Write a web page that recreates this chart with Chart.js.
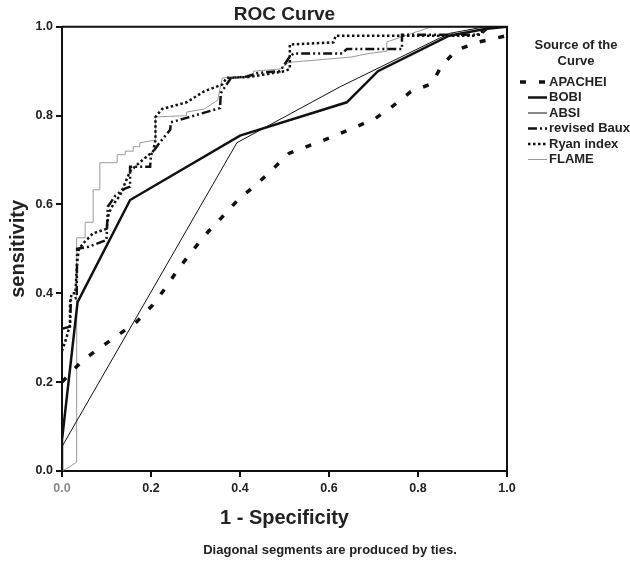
<!DOCTYPE html>
<html>
<head>
<meta charset="utf-8">
<title>ROC Curve</title>
<script src="https://cdn.jsdelivr.net/npm/chart.js@4/dist/chart.umd.min.js"></script>
<style>
  html, body { margin: 0; padding: 0; background: #fff; }
  #wrap { width: 630px; height: 563px; }
</style>
</head>
<body>
<div id="wrap"><canvas id="roc" width="630" height="563"></canvas></div>
<script>
// Curve names, in legend order
const seriesNames = ['APACHEI', 'BOBI', 'ABSI', 'revised Baux', 'Ryan index', 'FLAME'];

// Tick values for both axes
const tickValues = [0, 0.2, 0.4, 0.6, 0.8, 1.0];

// ROC points: [1 - specificity, sensitivity]
const apacheI = [[0, 0.2], [0.045, 0.248], [0.085, 0.277], [0.126, 0.306], [0.168, 0.336], [0.204, 0.374],
  [0.234, 0.414], [0.263, 0.457], [0.294, 0.497], [0.328, 0.538], [0.362, 0.574], [0.398, 0.613],
  [0.436, 0.644], [0.474, 0.68], [0.51, 0.715], [0.56, 0.734], [0.607, 0.752], [0.654, 0.772],
  [0.703, 0.793], [0.744, 0.822], [0.784, 0.854], [0.831, 0.872], [0.854, 0.914], [0.888, 0.948],
  [0.937, 0.966], [1.0, 0.98]];

const bobi = [[0, 0], [0, 0.07], [0.035, 0.38], [0.153, 0.61], [0.4, 0.755], [0.64, 0.83],
  [0.71, 0.9], [0.87, 0.98], [0.95, 0.995], [1, 1]];

const absi = [[0, 0.055], [0.393, 0.739], [0.625, 0.865], [0.87, 0.985], [0.95, 1.0], [1, 1]];

const revisedBaux = [[0, 0.32], [0.018, 0.325], [0.02, 0.385], [0.033, 0.39], [0.034, 0.5], [0.06, 0.505],
  [0.1, 0.52], [0.103, 0.595], [0.12, 0.62], [0.14, 0.635], [0.153, 0.64], [0.153, 0.685], [0.198, 0.685],
  [0.2, 0.712], [0.22, 0.74], [0.243, 0.768], [0.245, 0.785], [0.28, 0.795], [0.355, 0.817], [0.357, 0.851],
  [0.38, 0.885], [0.415, 0.888], [0.44, 0.896], [0.49, 0.9], [0.51, 0.93], [0.52, 0.94], [0.63, 0.94],
  [0.64, 0.95], [0.764, 0.95], [0.764, 0.982], [0.94, 0.982], [0.96, 1.0], [1, 1]];

const ryanIndex = [[0, 0.27], [0.01, 0.3], [0.018, 0.33], [0.018, 0.38], [0.022, 0.4], [0.03, 0.4],
  [0.034, 0.47], [0.038, 0.5], [0.05, 0.515], [0.07, 0.535], [0.1, 0.545], [0.105, 0.58], [0.115, 0.6],
  [0.13, 0.62], [0.153, 0.675], [0.175, 0.695], [0.205, 0.72], [0.21, 0.745], [0.21, 0.797],
  [0.225, 0.815], [0.28, 0.83], [0.32, 0.855], [0.36, 0.87], [0.37, 0.885], [0.42, 0.887], [0.5, 0.9],
  [0.512, 0.905], [0.512, 0.96], [0.61, 0.965], [0.615, 0.98], [0.93, 0.98], [0.96, 1.0], [1, 1]];

const flame = [[0, 0], [0.018, 0.01], [0.033, 0.02], [0.033, 0.525], [0.052, 0.525], [0.052, 0.56], [0.07, 0.56],
  [0.07, 0.633], [0.085, 0.633], [0.085, 0.694], [0.124, 0.694], [0.124, 0.712], [0.142, 0.712],
  [0.142, 0.72], [0.16, 0.72], [0.16, 0.73], [0.175, 0.73], [0.175, 0.739], [0.21, 0.745], [0.21, 0.797],
  [0.28, 0.8], [0.28, 0.808], [0.32, 0.815], [0.35, 0.835], [0.36, 0.885], [0.43, 0.888], [0.43, 0.9],
  [0.49, 0.905], [0.51, 0.92], [0.57, 0.925], [0.65, 0.932], [0.69, 0.94], [0.73, 0.945], [0.73, 0.966],
  [0.83, 1.0], [1, 1]];

const toPoints = arr => arr.map(p => ({ x: p[0], y: p[1] }));

const boldFont = "'Liberation Sans', Arial, sans-serif";

// --- frame, footnote and legend drawn after the chart ---
const extrasPlugin = {
    id: 'extras',
    afterDraw(chart) {
        const { ctx, chartArea: a } = chart;
        ctx.save();
        // top and right sides of the frame
        ctx.strokeStyle = '#111';
        ctx.lineWidth = 2;
        ctx.beginPath();
        ctx.moveTo(a.left, a.top);
        ctx.lineTo(a.right, a.top);
        ctx.lineTo(a.right, a.bottom);
        ctx.stroke();

        // footnote
        ctx.fillStyle = '#222';
        ctx.font = 'bold 13px ' + boldFont;
        ctx.textAlign = 'center';
        ctx.textBaseline = 'middle';
        ctx.fillText('Diagonal segments are produced by ties.', 330, 550);

        // legend
        ctx.fillText('Source of the', 576, 45);
        ctx.fillText('Curve', 576, 61);
        ctx.textAlign = 'left';
        chart.data.datasets.forEach((ds, i) => {
            const y = 82 + i * 15.5;
            ctx.strokeStyle = ds.borderColor;
            ctx.lineWidth = ds.borderWidth;
            ctx.setLineDash(ds.borderDash || []);
            ctx.beginPath();
            ctx.moveTo(ds.label === 'APACHEI' ? 520 : 528, y);
            ctx.lineTo(547, y);
            ctx.stroke();
            ctx.setLineDash([]);
            ctx.fillStyle = '#222';
            ctx.fillText(ds.label, 549, y);
        });
        ctx.restore();
    }
};

document.addEventListener('DOMContentLoaded', () => {
    const styles = [
        { borderColor: '#111', borderWidth: 3.5, borderDash: [6, 13] },
        { borderColor: '#111', borderWidth: 2.5, borderDash: [] },
        { borderColor: '#111', borderWidth: 1, borderDash: [] },
        { borderColor: '#111', borderWidth: 2.5, borderDash: [9, 3, 2, 3, 2, 3] },
        { borderColor: '#111', borderWidth: 2.5, borderDash: [2.5, 2.5] },
        { borderColor: '#999', borderWidth: 1, borderDash: [] }
    ];
    const series = [apacheI, bobi, absi, revisedBaux, ryanIndex, flame];

    const datasets = series.map((s, i) => ({
        label: seriesNames[i],
        data: toPoints(s),
        showLine: true,
        pointRadius: 0,
        tension: 0,
        fill: false,
        ...styles[i]
    }));

    const ctx = document.getElementById('roc').getContext('2d');
    new Chart(ctx, {
        type: 'scatter',
        data: { datasets: datasets },
        options: {
            responsive: false,
            animation: false,
            devicePixelRatio: 1,
            layout: { padding: { left: 0, right: 123, top: 0, bottom: 0 } },
            plugins: {
                legend: { display: false },
                tooltip: { enabled: false },
                title: {
                    display: true,
                    text: 'ROC Curve',
                    fullSize: false,
                    color: '#222',
                    font: { family: boldFont, size: 19, weight: 'bold', lineHeight: 1.2 },
                    padding: { top: 3, bottom: 1 }
                }
            },
            scales: {
                x: {
                    type: 'linear',
                    min: 0,
                    max: 1,
                    afterBuildTicks: scale => { scale.ticks = tickValues.map(v => ({ value: v })); },
                    afterFit: scale => { scale.height = 92; },
                    grid: { drawOnChartArea: false, drawTicks: true, tickLength: 6, color: '#111', lineWidth: 2 },
                    border: { display: true, color: '#111', width: 2 },
                    ticks: {
                        padding: 4,
                        maxRotation: 0,
                        callback: v => Number(v).toFixed(1),
                        color: c => (c.tick && c.tick.value === 0 ? '#888' : '#222'),
                        font: { family: boldFont, size: 12.5, weight: 'bold' }
                    },
                    title: {
                        display: true,
                        text: '1 - Specificity',
                        color: '#222',
                        font: { family: boldFont, size: 20, weight: 'bold', lineHeight: 1.2 },
                        padding: { top: 0, bottom: 33 }
                    }
                },
                y: {
                    type: 'linear',
                    min: 0,
                    max: 1,
                    afterBuildTicks: scale => { scale.ticks = tickValues.map(v => ({ value: v })); },
                    afterFit: scale => { scale.width = 62; },
                    grid: { drawOnChartArea: false, drawTicks: true, tickLength: 6, color: '#111', lineWidth: 2 },
                    border: { display: true, color: '#111', width: 2 },
                    ticks: {
                        padding: 3,
                        callback: v => Number(v).toFixed(1),
                        color: '#222',
                        font: { family: boldFont, size: 12.5, weight: 'bold' }
                    },
                    title: {
                        display: true,
                        text: 'sensitivity',
                        color: '#222',
                        font: { family: boldFont, size: 20, weight: 'bold', lineHeight: 1.2 },
                        padding: { top: 6, bottom: 0 }
                    }
                }
            }
        },
        plugins: [extrasPlugin]
    });
});
</script>
</body>
</html>
